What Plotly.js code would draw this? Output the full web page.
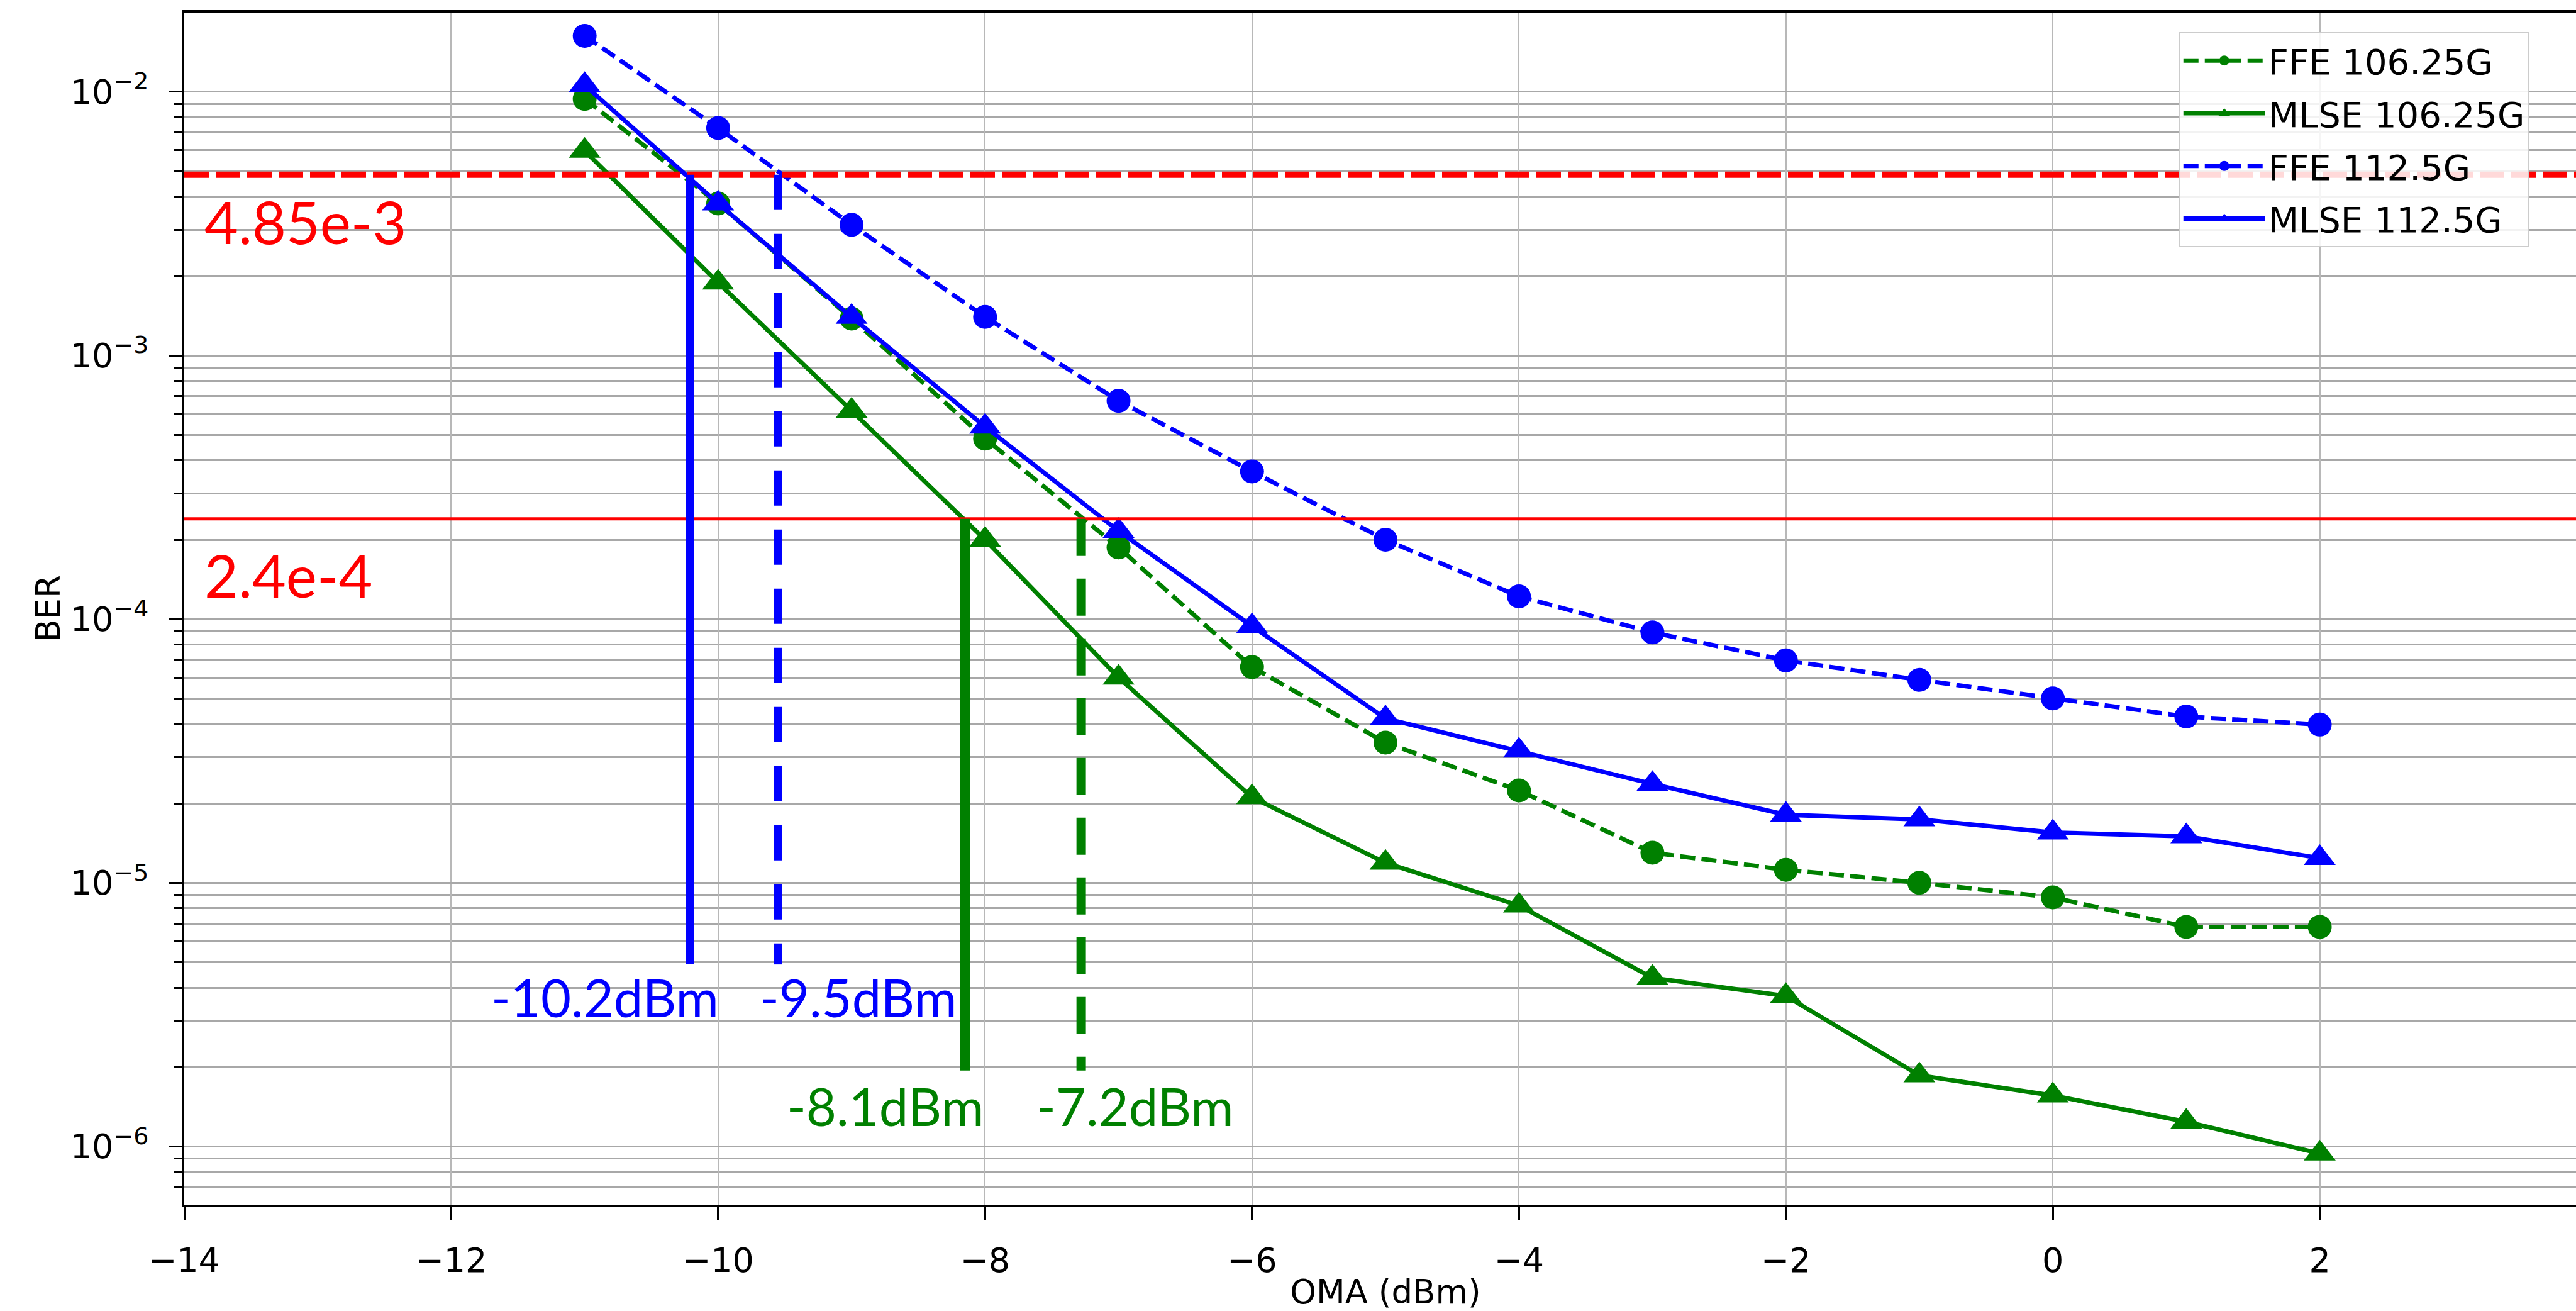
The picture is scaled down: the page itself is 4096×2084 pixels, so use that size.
<!DOCTYPE html>
<html>
<head>
<meta charset="utf-8">
<script src="https://cdn.plot.ly/plotly-3.0.1.min.js"></script>
<style>
  html, body { margin: 0; padding: 0; overflow: hidden; background: #ffffff; width: 4096px; height: 2084px; }
  #chart { width: 4113px; height: 2084px; }
</style>
</head>
<body>
<div id="chart"></div>
<script>
// ---------------- data ----------------
const omaDbm = [-11, -10, -9, -8, -7, -6, -5, -4, -3, -2, -1, 0, 1, 2];
const berFfe106 = [9.4e-3, 3.77e-3, 1.38e-3, 4.84e-4, 1.87e-4, 6.58e-5, 3.4e-5, 2.24e-5, 1.3e-5, 1.12e-5, 1.0e-5, 8.8e-6, 6.8e-6, 6.8e-6];
const berMlse106 = [5.97e-3, 1.89e-3, 6.17e-4, 2.0e-4, 6.0e-5, 2.11e-5, 1.19e-5, 8.2e-6, 4.36e-6, 3.72e-6, 1.86e-6, 1.56e-6, 1.24e-6, 9.4e-7];
const berFfe112 = [1.63e-2, 7.29e-3, 3.13e-3, 1.4e-3, 6.73e-4, 3.63e-4, 2.0e-4, 1.22e-4, 8.9e-5, 6.97e-5, 5.88e-5, 5.0e-5, 4.27e-5, 3.98e-5];
const berMlse112 = [1.06e-2, 3.77e-3, 1.4e-3, 5.37e-4, 2.16e-4, 9.4e-5, 4.2e-5, 3.17e-5, 2.37e-5, 1.81e-5, 1.74e-5, 1.55e-5, 1.5e-5, 1.24e-5];
const seriesNames = ['FFE 106.25G', 'MLSE 106.25G', 'FFE 112.5G', 'MLSE 112.5G'];

const berThresholds = [4.85e-3, 2.4e-4];
const thresholdLabels = ['4.85e-3', '2.4e-4'];

const sensitivityDbm = [-10.21, -9.55, -8.15, -7.28];
const sensitivityTop = [4.85e-3, 4.85e-3, 2.4e-4, 2.4e-4];
const sensitivityBottom = [4.9e-6, 4.9e-6, 1.94e-6, 1.94e-6];
const sensitivityLabels = ['-10.2dBm', '-9.5dBm', '-8.1dBm', '-7.2dBm'];

const xRange = [-14, 4];
const xTickVals = [-14, -12, -10, -8, -6, -4, -2, 0, 2, 4];
const yTickVals = [1e-6, 1e-5, 1e-4, 1e-3, 1e-2];
const yTickText = ['10<sup>\u22126</sup>', '10<sup>\u22125</sup>', '10<sup>\u22124</sup>', '10<sup>\u22123</sup>', '10<sup>\u22122</sup>'];

// ---------------- styles ----------------
const GREEN = '#008000';
const BLUE = '#0000ff';
const RED = '#ff0000';
const dataDash = '24px,10px';

function series(x, y, name, color, dashed, symbol, group) {
  return {
    type: 'scatter', mode: 'lines+markers', x: x, y: y, name: name,
    legendgroup: group,
    line: { color: color, width: 7, dash: dashed ? dataDash : 'solid' },
    marker: { color: color, symbol: symbol, size: symbol === 'circle' ? 38 : 44, line: { width: 0 } }
  };
}

const traces = [
  series(omaDbm, berFfe106, seriesNames[0], GREEN, true, 'circle', 'g1'),
  series(omaDbm, berMlse106, seriesNames[1], GREEN, false, 'triangle-up', 'g2'),
  series(omaDbm, berFfe112, seriesNames[2], BLUE, true, 'circle', 'g3'),
  series(omaDbm, berMlse112, seriesNames[3], BLUE, false, 'triangle-up', 'g4')
];

// threshold lines
const thrStyles = [
  { color: RED, width: 10, dash: '39px,11px' },
  { color: RED, width: 5, dash: 'solid' }
];
berThresholds.forEach((t, i) => {
  traces.push({
    type: 'scatter', mode: 'lines', x: xRange, y: [t, t],
    showlegend: false, hoverinfo: 'skip', line: thrStyles[i]
  });
});

// sensitivity markers
const sensStyles = [
  { color: BLUE, width: 13, dash: 'solid' },
  { color: BLUE, width: 13, dash: '56px,38px' },
  { color: GREEN, width: 17, dash: 'solid' },
  { color: GREEN, width: 15, dash: '59px,36px' }
];
sensitivityDbm.forEach((s, i) => {
  traces.push({
    type: 'scatter', mode: 'lines', x: [s, s], y: [sensitivityTop[i], sensitivityBottom[i]],
    showlegend: false, hoverinfo: 'skip', line: sensStyles[i]
  });
});

// ---------------- annotations ----------------
const annotations = [];
const thrShift = [-74, -89];
berThresholds.forEach((t, i) => {
  annotations.push({
    xref: 'x', yref: 'y', x: xRange[0], y: Math.log10(t),
    xanchor: 'left', yanchor: 'middle', xshift: 30, yshift: thrShift[i],
    text: thresholdLabels[i], showarrow: false,
    font: { family: 'Lato, "Open Sans", sans-serif', size: 93, color: RED }
  });
});
const sensXShift = [-135, 128, -127, 86];
const sensYShift = [-52, -52, -56, -56];
const sensColor = [BLUE, BLUE, GREEN, GREEN];
sensitivityDbm.forEach((s, i) => {
  annotations.push({
    xref: 'x', yref: 'y', x: s, y: Math.log10(sensitivityBottom[i]),
    xanchor: 'center', yanchor: 'middle', xshift: sensXShift[i], yshift: sensYShift[i],
    text: sensitivityLabels[i], showarrow: false,
    font: { family: 'Lato, "Open Sans", sans-serif', size: 83, color: sensColor[i] }
  });
});

// ---------------- layout ----------------
const axisFont = { family: 'DejaVu Sans', size: 54, color: '#000000' };

const layout = {
  width: 4113, height: 2084,
  margin: { l: 293, r: 0, t: 20, b: 169, pad: 0 },
  paper_bgcolor: '#ffffff', plot_bgcolor: '#ffffff',
  font: axisFont,
  showlegend: true,
  legend: {
    x: 0.8303, y: 0.9835, xanchor: 'left', yanchor: 'top',
    bgcolor: 'rgba(255,255,255,0.85)', bordercolor: '#cccccc', borderwidth: 2,
    font: { family: 'DejaVu Sans', size: 56, color: '#000000' },
    itemwidth: 130, traceorder: 'grouped', tracegroupgap: 8
  },
  xaxis: {
    type: 'linear', range: xRange, tickmode: 'array', tickvals: xTickVals,
    ticks: 'outside', ticklen: 20, tickwidth: 3, tickcolor: '#000000',
    showline: true, linecolor: '#000000', linewidth: 4, mirror: true,
    showgrid: true, gridcolor: '#b8b8b8', gridwidth: 2, zeroline: false,
    tickfont: axisFont, ticklabelstandoff: 18, ticklabeloverflow: 'allow', automargin: false,
    title: { text: 'OMA (dBm)', font: { family: 'DejaVu Sans', size: 53, color: '#000000' }, standoff: 25 }
  },
  yaxis: {
    type: 'log', range: [-6.221, -1.6995], tickmode: 'array', tickvals: yTickVals, ticktext: yTickText,
    ticks: 'outside', ticklen: 20, tickwidth: 3, tickcolor: '#000000',
    showline: true, linecolor: '#000000', linewidth: 4, mirror: true,
    showgrid: true, gridcolor: '#a8a8a8', gridwidth: 3, zeroline: false,
    tickfont: axisFont, ticklabelstandoff: 22, automargin: false,
    minor: { ticks: 'outside', ticklen: 12, tickwidth: 3, tickcolor: '#000000', showgrid: true, gridcolor: '#a8a8a8', gridwidth: 3, dtick: 'D1' },
    title: { text: 'BER', font: { family: 'DejaVu Sans', size: 53, color: '#000000' }, standoff: 0 }
  },
  annotations: annotations
};

Plotly.newPlot('chart', traces, layout, { staticPlot: true, displayModeBar: false });
</script>
</body>
</html>
